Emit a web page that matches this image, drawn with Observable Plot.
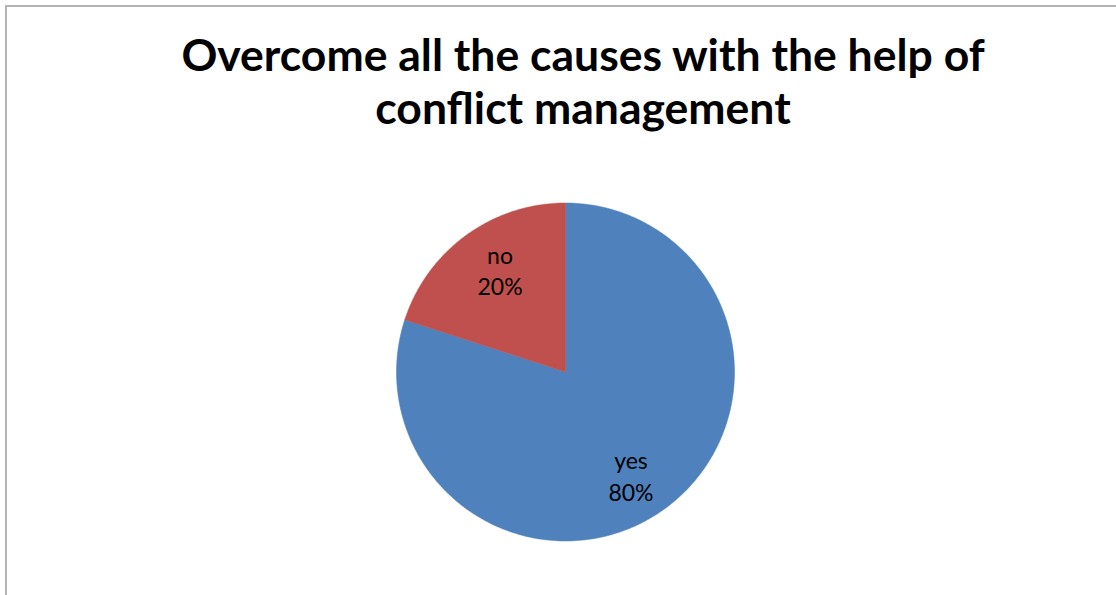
<!DOCTYPE html>
<html>
<head>
<meta charset="utf-8">
<script src="https://cdn.jsdelivr.net/npm/d3@7"></script>
<script src="https://cdn.jsdelivr.net/npm/@observablehq/plot@0.6"></script>
<style>
  html, body { margin: 0; padding: 0; background: #fff; }
  #wrap { position: relative; width: 1116px; height: 595px; overflow: hidden; }
  #frame { position: absolute; left: 5px; top: 5px; right: -10px; bottom: -10px;
           border-left: 2px solid #b4b4b4; border-top: 2px solid #b4b4b4; }
  #title { position: absolute; left: 0; width: 1166px; top: 27px; text-align: center;
           font-family: Lato, "Open Sans", sans-serif; font-weight: bold; font-size: 44.5px;
           line-height: 53px; color: #000; }
  #chart { position: absolute; left: 0; top: 0; }
</style>
</head>
<body>
<div id="wrap">
  <div id="frame"></div>
  <div id="chart"></div>
  <div id="title">Overcome all the causes with the help of<br>conflict management</div>
</div>
<script>
const categories = ["yes", "no"];
const values = [80, 20];
const colors = ["#4F81BD", "#C0504D"];

const rows = categories.map((c, i) => ({category: c, value: values[i]}));
const arcs = d3.pie().sort(null).value(d => d.value)(rows);
const total = d3.sum(values);

// outline polygons for each slice (unit circle, y up, clockwise from 12 o'clock)
const slicePts = [];
for (const a of arcs) {
  const cat = a.data.category;
  slicePts.push({category: cat, x: 0, y: 0});
  const n = Math.max(2, Math.ceil((a.endAngle - a.startAngle) / (Math.PI / 180)));
  for (let k = 0; k <= n; k++) {
    const t = a.startAngle + (a.endAngle - a.startAngle) * k / n;
    slicePts.push({category: cat, x: Math.sin(t), y: Math.cos(t)});
  }
  slicePts.push({category: cat, x: 0, y: 0});
}

const labelR = 0.72;
const labelRot = 0.06; // slight clockwise placement like the source
const labels = arcs.map(a => {
  const m = (a.startAngle + a.endAngle) / 2 + labelRot;
  return {
    category: a.data.category,
    x: labelR * Math.sin(m),
    y: labelR * Math.cos(m),
    text: `${a.data.category}\n${Math.round(a.data.value / total * 100)}%`
  };
});

const plot = Plot.plot({
  width: 1116,
  height: 595,
  margin: 0,
  x: {domain: [-1, 1], range: [396, 734], axis: null},
  y: {domain: [-1, 1], range: [540.5, 202.5], axis: null},
  color: {domain: categories, range: colors},
  style: {background: "transparent"},
  marks: [
    Plot.line(slicePts, {x: "x", y: "y", z: "category", fill: "category", stroke: "category", strokeWidth: 0.5, curve: "linear"}),
    Plot.text(labels, {x: "x", y: "y", text: "text", fill: "#000", fontSize: 23,
      fontFamily: "Lato, 'Open Sans', sans-serif", lineHeight: 1.38})
  ]
});
document.getElementById("chart").appendChild(plot);
</script>
</body>
</html>
